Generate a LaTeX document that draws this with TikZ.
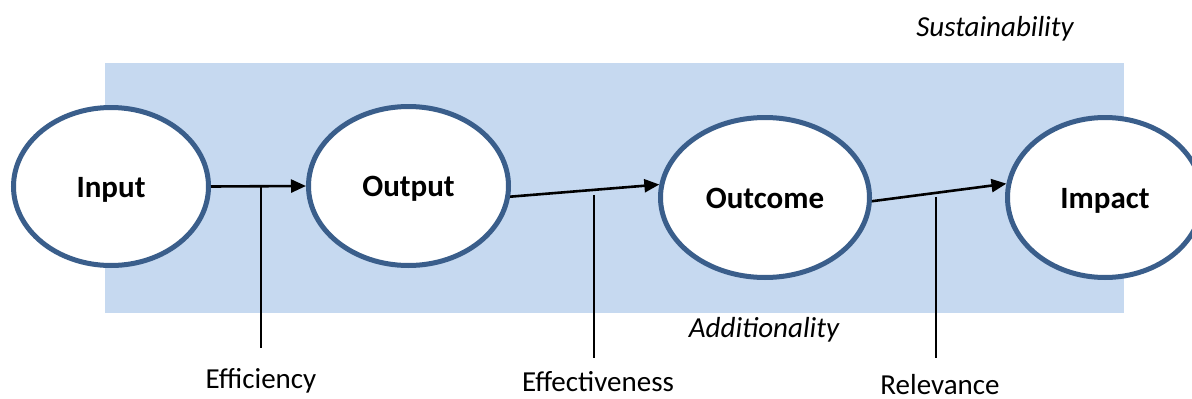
\documentclass[tikz,border=0pt]{standalone}
\usepackage{fontspec}
\setmainfont{Carlito}
\usetikzlibrary{shapes.geometric,arrows.meta}
\definecolor{panelblue}{RGB}{198,217,240}
\definecolor{ringblue}{RGB}{58,94,139}
\tikzset{
  stage/.style={ellipse, draw=ringblue, line width=5pt, fill=white, inner sep=0pt,
    text height=21pt, text depth=0pt,
    font=\fontsize{31}{36}\selectfont\bfseries},
  flow/.style={line width=2.6pt, -{Triangle[length=15pt,width=13pt]}},
  lead/.style={line width=2pt},
  crit/.style={font=\fontsize{29}{34}\selectfont, inner sep=0pt, anchor=base},
  critit/.style={crit, font=\fontsize{29}{34}\selectfont\itshape}
}
\begin{document}
\begin{tikzpicture}[x=1pt,y=-1pt]
  % page frame
  \clip (0,0) rectangle (1192,399);
  \fill[white] (0,0) rectangle (1192,399);
  % shaded panel
  \fill[panelblue] (105,63) rectangle (1124,313);

  % results chain
  \node[stage, minimum width=195pt, minimum height=158pt] (in)  at (111,186.5) {Input};
  \node[stage, minimum width=200pt, minimum height=159pt] (out) at (408.5,186) {Output};
  \node[stage, minimum width=209pt, minimum height=160pt] (oc)  at (765,197.5) {Outcome};
  \node[stage, minimum width=195pt, minimum height=160pt] (im)  at (1105,197.5) {Impact};

  % arrows between stages
  \draw[flow] (in.east) -- coordinate[pos=0.53] (k1) (out.west);
  \draw[flow] (out.354) -- coordinate[pos=0.56] (k2) (oc.173);
  \draw[flow] (oc.358) -- coordinate[pos=0.48] (k3) (im.172);

  % criteria labels (placed by baseline)
  \node[crit] (eff) at (261,388) {Efficiency};
  \node[crit] (efv) at (598,391) {Effectiveness};
  \node[crit] (rel) at (940,394) {Relevance};
  \node[critit] (sus) at (995,36) {Sustainability};
  \node[critit] (add) at (764,337) {Additionality};

  % leader lines
  \coordinate (e1) at (k1 |- 0,348);
  \coordinate (e2) at (k2 |- 0,358);
  \coordinate (e3) at (k3 |- 0,358);
  \draw[lead] (k1) -- (e1);
  \draw[lead] ([yshift=-5pt]k2) -- (e2);
  \draw[lead] ([yshift=-4pt]k3) -- (e3);
\end{tikzpicture}
\end{document}
